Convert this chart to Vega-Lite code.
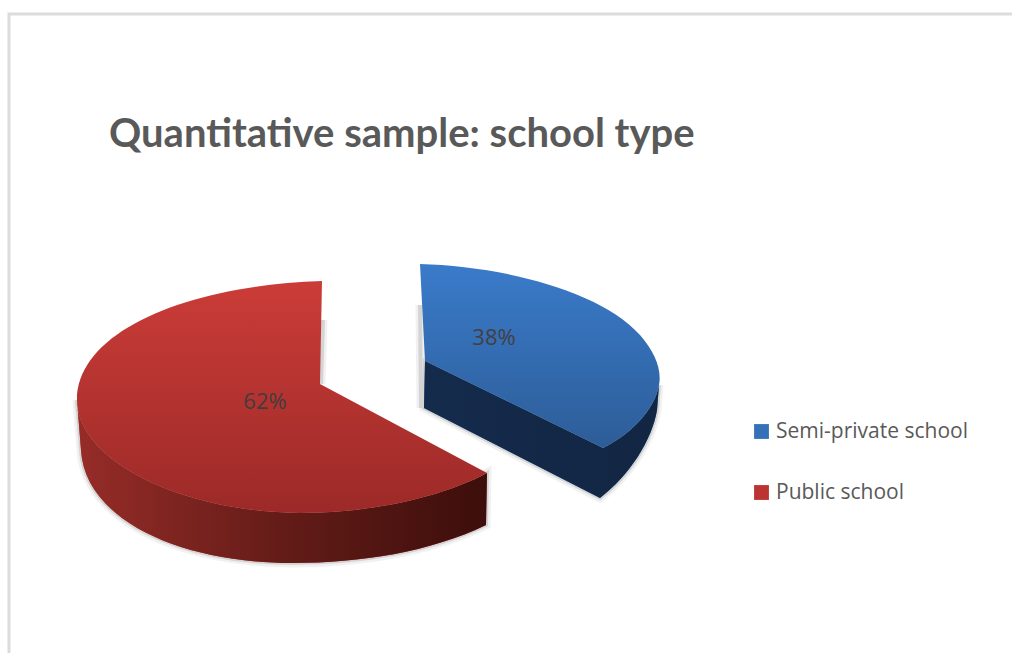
{
  "$schema": "https://vega.github.io/schema/vega-lite/v6.json",
  "width": 1010,
  "height": 650,
  "autosize": "none",
  "padding": {"left": 9, "top": 14, "right": 0, "bottom": 0},
  "background": "white",
  "title": {
    "text": "Quantitative sample: school type",
    "frame": "group",
    "anchor": "start",
    "orient": "top",
    "dx": 100,
    "dy": 145,
    "font": "Lato",
    "fontWeight": "bold",
    "fontSize": 40,
    "color": "#595959",
    "limit": 0
  },
  "config": {
    "view": {"stroke": "#dcdcdc", "strokeWidth": 3, "fill": null}
  },
  "data": {
    "values": [
      {"school": "Semi-private school", "share": 0.38},
      {"school": "Public school", "share": 0.62}
    ]
  },
  "encoding": {
    "x": {
      "field": "school",
      "type": "nominal",
      "axis": null,
      "scale": {"domain": ["Semi-private school", "Public school"], "range": [416, 311], "padding": 0}
    },
    "y": {
      "field": "school",
      "type": "nominal",
      "axis": null,
      "scale": {"domain": ["Semi-private school", "Public school"], "range": [347, 370], "padding": 0}
    }
  },
  "layer": [
    {
      "mark": {"type": "point", "filled": false, "fill": "transparent", "stroke": "#777777", "strokeWidth": 9, "strokeOpacity": 0.1, "opacity": 1, "size": 4},
      "encoding": {
        "shape": {
          "field": "school",
          "legend": null,
          "scale": {
            "domain": ["Public school", "Semi-private school"],
            "range": [
              "M-243,16 C-243,76 -140,128 -20,129 C50,129 120,114 167,89 L166,141 C110,168 40,179 -27,179 C-140,179 -235,136 -239,66 Z M3,-64 L1,0",
              "M0,0 L178,87 C205,74 230,49 234,24 L232,49 C227,79 205,114 175,137 L-1,47 Z M-5,-56 L-4,47"
            ]
          }
        }
      }
    },
    {
      "mark": {"type": "point", "filled": false, "fill": "transparent", "stroke": "#666666", "strokeWidth": 4, "strokeOpacity": 0.2, "opacity": 1, "size": 4},
      "encoding": {
        "shape": {"field": "school", "legend": null}
      }
    },
    {
      "mark": {"type": "point", "filled": true, "opacity": 1, "size": 4},
      "encoding": {
        "shape": {"field": "school", "legend": null},
        "color": {
          "field": "school",
          "type": "nominal",
          "scale": {
            "domain": ["Semi-private school", "Public school"],
            "range": ["#3471b8", "#bb3431"]
          },
          "legend": {
            "title": null,
            "orient": "none",
            "legendX": 742,
            "legendY": 407,
            "symbolType": "square",
            "symbolSize": 220,
            "symbolStrokeWidth": 0,
            "labelFont": "Open Sans",
            "labelFontSize": 21,
            "labelColor": "#595959",
            "labelOffset": 4,
            "labelLimit": 300,
            "rowPadding": 39
          }
        }
      }
    },
    {
      "transform": [{"filter": "datum.school === 'Semi-private school'"}],
      "mark": {
        "type": "point", "filled": true, "opacity": 1, "size": 4,
        "shape": "M0,0 L178,87 C205,74 230,49 234,24 L232,49 C227,79 205,114 175,137 L-1,47 Z",
        "fill": {"gradient": "linear", "x1": 0, "y1": 0, "x2": 1, "y2": 0, "stops": [{"offset": 0, "color": "#152b4c"}, {"offset": 1, "color": "#122643"}]}
      }
    },
    {
      "transform": [{"filter": "datum.school === 'Public school'"}],
      "mark": {
        "type": "point", "filled": true, "opacity": 1, "size": 4,
        "shape": "M-243,16 C-243,76 -140,128 -20,129 C50,129 120,114 167,89 L166,141 C110,168 40,179 -27,179 C-140,179 -235,136 -239,66 Z",
        "fill": {"gradient": "linear", "x1": 0, "y1": 0, "x2": 1, "y2": 0, "stops": [{"offset": 0, "color": "#962c28"}, {"offset": 0.5, "color": "#641c18"}, {"offset": 1, "color": "#3c0e0b"}]}
      }
    },
    {
      "transform": [{"filter": "datum.school === 'Semi-private school'"}],
      "mark": {
        "type": "point", "filled": true, "opacity": 1, "size": 4,
        "shape": "M-5,-97 C75,-95 175,-71 215,-26 C230,-9 237,9 234,24 C230,49 205,74 178,87 L0,0 Z",
        "fill": {"gradient": "linear", "x1": 0, "y1": 0, "x2": 0, "y2": 1, "stops": [{"offset": 0, "color": "#3a7bca"}, {"offset": 1, "color": "#2d5d98"}]}
      }
    },
    {
      "transform": [{"filter": "datum.school === 'Public school'"}],
      "mark": {
        "type": "point", "filled": true, "opacity": 1, "size": 4,
        "shape": "M2,-103 C-130,-99 -243,-54 -243,16 C-243,76 -140,128 -20,129 C50,129 120,114 167,89 L0,0 Z",
        "fill": {"gradient": "linear", "x1": 0, "y1": 0, "x2": 0, "y2": 1, "stops": [{"offset": 0, "color": "#cb3c38"}, {"offset": 1, "color": "#9c2a28"}]}
      }
    },
    {
      "transform": [{"filter": "datum.school === 'Public school'"}],
      "mark": {"type": "text", "font": "Open Sans", "fontSize": 22, "color": "#433c3c", "dx": -55, "dy": 18, "align": "center", "baseline": "middle"},
      "encoding": {"text": {"field": "share", "type": "quantitative", "format": ".0%"}}
    },
    {
      "transform": [{"filter": "datum.school === 'Semi-private school'"}],
      "mark": {"type": "text", "font": "Open Sans", "fontSize": 22, "color": "#433f45", "dx": 69, "dy": -23, "align": "center", "baseline": "middle"},
      "encoding": {"text": {"field": "share", "type": "quantitative", "format": ".0%"}}
    }
  ]
}
